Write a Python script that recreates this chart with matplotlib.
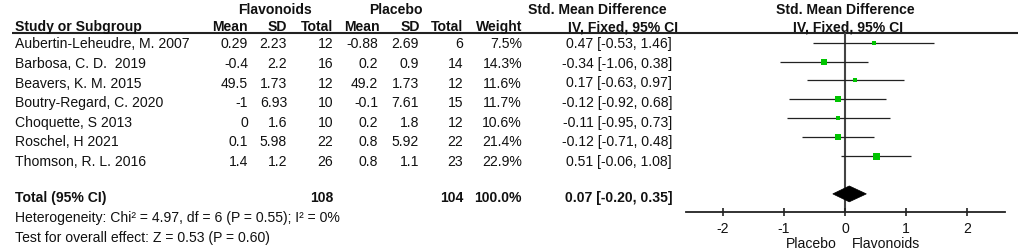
import matplotlib
matplotlib.use("Agg")
import matplotlib.pyplot as plt
from matplotlib.patches import Polygon
import numpy as np

plt.rcParams['font.family'] = ['Liberation Sans', 'DejaVu Sans']

# ---------------- data ----------------
studies = ["Aubertin-Leheudre, M. 2007", "Barbosa, C. D.  2019", "Beavers, K. M. 2015",
           "Boutry-Regard, C. 2020", "Choquette, S 2013", "Roschel, H 2021", "Thomson, R. L. 2016"]
flav_mean = ["0.29", "-0.4", "49.5", "-1", "0", "0.1", "1.4"]
flav_sd = ["2.23", "2.2", "1.73", "6.93", "1.6", "5.98", "1.2"]
flav_n = [12, 16, 12, 10, 10, 22, 26]
plac_mean = ["-0.88", "0.2", "49.2", "-0.1", "0.2", "0.8", "0.8"]
plac_sd = ["2.69", "0.9", "1.73", "7.61", "1.8", "5.92", "1.1"]
plac_n = [6, 14, 12, 15, 12, 22, 23]
weight = [7.5, 14.3, 11.6, 11.7, 10.6, 21.4, 22.9]
smd = [0.47, -0.34, 0.17, -0.12, -0.11, -0.12, 0.51]
ci_lo = [-0.53, -1.06, -0.63, -0.92, -0.95, -0.71, -0.06]
ci_hi = [1.46, 0.38, 0.97, 0.68, 0.73, 0.48, 1.08]
total_flav = 108
total_plac = 104
total_weight = "100.0%"
total_smd, total_lo, total_hi = 0.07, -0.20, 0.35
heterogeneity = "Heterogeneity: Chi\u00b2 = 4.97, df = 6 (P = 0.55); I\u00b2 = 0%"
overall = "Test for overall effect: Z = 0.53 (P = 0.60)"
xticks = [-2, -1, 0, 1, 2]
xticklabels = ["-2", "-1", "0", "1", "2"]

# ---------------- figure ----------------
W, H = 1021, 252
fig = plt.figure(figsize=(W / 100, H / 100), dpi=100)
ax = fig.add_axes([0, 0, 1, 1])
ax.set_xlim(0, W)
ax.set_ylim(H, 0)
ax.axis('off')

fs = 10.1
tc = '#111111'

def T(x, y, s, ha='right', bold=False, **kw):
    ax.text(x, y, s, ha=ha, va='baseline', fontsize=fs, color=tc,
            fontweight='bold' if bold else 'normal', **kw)

# headers
T(275, 14, "Flavonoids", ha='center', bold=True)
T(396, 14, "Placebo", ha='center', bold=True)
T(597, 14, "Std. Mean Difference", ha='center', bold=True)
T(845, 14, "Std. Mean Difference", ha='center', bold=True)
hb = 31
T(15, hb, "Study or Subgroup", ha='left', bold=True)
T(248, hb, "Mean", bold=True)
T(287, hb, "SD", bold=True)
T(333, hb, "Total", bold=True)
T(380, hb, "Mean", bold=True)
T(420, hb, "SD", bold=True)
T(463, hb, "Total", bold=True)
T(522, hb, "Weight", bold=True)
T(678, hb, "IV, Fixed, 95% CI", bold=True)
T(848, hb, "IV, Fixed, 95% CI", ha='center', bold=True)
ax.plot([12, 1018], [33, 33], color='#222222', lw=1.5, solid_capstyle='butt')

# rows
for i in range(len(studies)):
    y = 48.3 + 19.6 * i
    T(15, y, studies[i], ha='left')
    T(248, y, flav_mean[i])
    T(287, y, flav_sd[i])
    T(333, y, str(flav_n[i]))
    T(378, y, plac_mean[i])
    T(419, y, plac_sd[i])
    T(463, y, str(plac_n[i]))
    T(522, y, f"{weight[i]:.1f}%")
    T(672, y, f"{smd[i]:.2f} [{ci_lo[i]:.2f}, {ci_hi[i]:.2f}]")

yt = 201.7
T(15, yt, "Total (95% CI)", ha='left', bold=True)
T(333, yt, str(total_flav), bold=True)
T(463, yt, str(total_plac), bold=True)
T(522, yt, total_weight, bold=True)
T(672, yt, f"{total_smd:.2f} [{total_lo:.2f}, {total_hi:.2f}]", bold=True)
T(15, 221.7, heterogeneity, ha='left')
T(15, 241.7, overall, ha='left')
T(837, 248, "Placebo", ha='right')
T(852, 248, "Flavonoids", ha='left')

# ---------------- forest axes ----------------
x0, x1 = 686, 1005
ytop, ybot = 33, 212
fx = fig.add_axes([x0 / W, 1 - ybot / H, (x1 - x0) / W, (ybot - ytop) / H])
fx.patch.set_alpha(0)
r0, dr = 42.7, 18.9
fx.set_ylim((ybot - r0) / dr, (ytop - r0) / dr)
fx.set_xlim((x0 - 845) / 61.0, (x1 - 845) / 61.0)
for s in ['top', 'left', 'right']:
    fx.spines[s].set_visible(False)
fx.spines['bottom'].set_color('#222222')
fx.spines['bottom'].set_linewidth(1.3)
fx.set_yticks([])
fx.set_xticks(xticks)
fx.set_xticklabels(xticklabels)
fx.tick_params(axis='x', direction='inout', length=6, width=1.2, color='#222222',
               pad=4, labelsize=fs, labelcolor=tc)

fx.axvline(0, color='#444444', lw=1.5, zorder=1)
idx = np.arange(len(studies))
fx.hlines(idx, ci_lo, ci_hi, color='#222222', lw=0.9, zorder=2)
for i in idx:
    side_px = 7.0 * np.sqrt(weight[i] / 22.9)
    fx.plot(smd[i], i, marker='s', ms=side_px * 0.72, color='#00C400',
            markeredgewidth=0, zorder=3)
yd = len(studies) + 1
hh = 0.42
fx.add_patch(Polygon([(total_lo, yd), (total_smd, yd - hh), (total_hi, yd), (total_smd, yd + hh)],
                     closed=True, facecolor='black', edgecolor='black', lw=0.5, zorder=4))

fig.savefig("out.png", dpi=100)
